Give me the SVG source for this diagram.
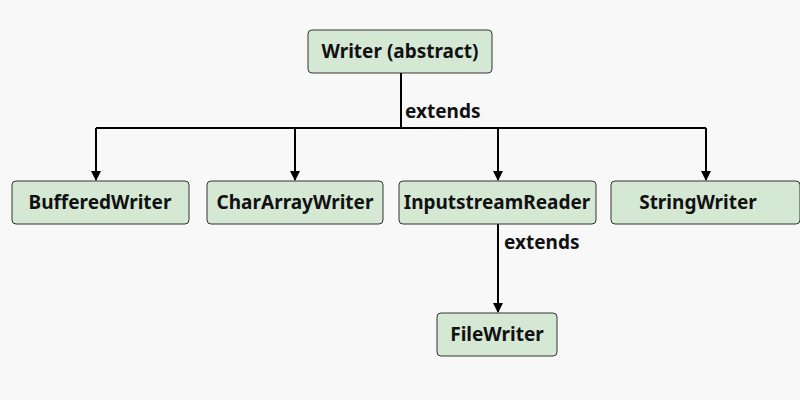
<svg xmlns="http://www.w3.org/2000/svg" width="800" height="400" viewBox="0 0 800 400">
<style>
.n rect{fill:#d5e8d4;stroke:#333;stroke-width:1}
text{font-family:"Noto Sans","Liberation Sans",sans-serif;font-weight:bold;font-size:19px;fill:#111}
.n text{text-anchor:middle}
.c path{fill:none;stroke:#000;stroke-width:2}
</style>
<defs><marker id="a" markerWidth="10" markerHeight="10" refX="9" refY="5" orient="auto" markerUnits="userSpaceOnUse"><path d="M0,0L10,5L0,10z" fill="#000"/></marker></defs>
<rect width="800" height="400" fill="#f8f8f8"/>
<g class="c">
<path d="M401,73V128"/>
<path d="M96,128H706"/>
<path d="M96,128V180" marker-end="url(#a)"/>
<path d="M295,128V180" marker-end="url(#a)"/>
<path d="M498,128V180" marker-end="url(#a)"/>
<path d="M706,128V180" marker-end="url(#a)"/>
<path d="M498,224V312" marker-end="url(#a)"/>
<text x="405" y="118">extends</text>
<text x="504" y="249">extends</text>
</g>
<g class="n" id="writer"><rect x="308" y="30" width="184" height="43" rx="4"/><text x="400" y="58">Writer (abstract)</text></g>
<g class="n" id="buffered"><rect x="12" y="181" width="177" height="43" rx="4"/><text x="100" y="209">BufferedWriter</text></g>
<g class="n" id="chararray"><rect x="207" y="181" width="176" height="43" rx="4"/><text x="295" y="209">CharArrayWriter</text></g>
<g class="n" id="inputstream"><rect x="399" y="181" width="197" height="43" rx="4"/><text x="497" y="209">InputstreamReader</text></g>
<g class="n" id="string"><rect x="611" y="181" width="189" height="43" rx="4"/><text x="698" y="209">StringWriter</text></g>
<g class="n" id="filewriter"><rect x="437" y="313" width="120" height="43" rx="4"/><text x="497" y="341">FileWriter</text></g>
</svg>
